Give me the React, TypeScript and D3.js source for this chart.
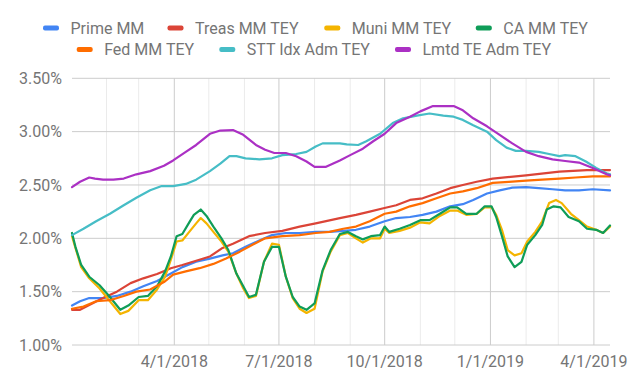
import React from "react";
import * as d3 from "d3";

type Pt = [string, number];

const seriesNames = ["Prime MM", "Treas MM TEY", "Muni MM TEY", "CA MM TEY", "Fed MM TEY", "STT Idx Adm TEY", "Lmtd TE Adm TEY"];
const seriesColors = ["#4285F4", "#DB4437", "#F4B400", "#0F9D58", "#FF6D00", "#46BDC6", "#AB30C4"];

const primeMM: Pt[] = [
  ["2018-01-02", 1.37], ["2018-01-09", 1.41], ["2018-01-17", 1.44], ["2018-01-29", 1.44], ["2018-02-10", 1.46],
  ["2018-02-22", 1.5], ["2018-03-05", 1.55], ["2018-03-17", 1.6], ["2018-03-29", 1.67], ["2018-04-08", 1.73],
  ["2018-04-20", 1.78], ["2018-05-02", 1.81], ["2018-05-13", 1.84], ["2018-05-22", 1.86], ["2018-06-02", 1.92],
  ["2018-06-14", 1.98], ["2018-06-25", 2.03], ["2018-07-07", 2.05], ["2018-07-19", 2.05], ["2018-08-02", 2.06],
  ["2018-08-14", 2.06], ["2018-08-26", 2.07], ["2018-09-06", 2.08], ["2018-09-18", 2.11], ["2018-10-01", 2.16],
  ["2018-10-11", 2.19], ["2018-10-23", 2.2], ["2018-11-03", 2.22], ["2018-11-15", 2.25], ["2018-11-27", 2.3],
  ["2018-12-08", 2.32], ["2018-12-17", 2.36], ["2018-12-29", 2.42], ["2019-01-09", 2.45], ["2019-01-20", 2.475],
  ["2019-02-01", 2.48], ["2019-02-12", 2.47], ["2019-02-24", 2.46], ["2019-03-07", 2.45], ["2019-03-19", 2.45],
  ["2019-03-31", 2.46], ["2019-04-15", 2.45],
];

const treasMM: Pt[] = [
  ["2018-01-02", 1.33], ["2018-01-09", 1.33], ["2018-01-17", 1.375], ["2018-01-29", 1.44], ["2018-02-10", 1.5],
  ["2018-02-22", 1.58], ["2018-03-05", 1.625], ["2018-03-17", 1.665], ["2018-03-29", 1.72], ["2018-04-08", 1.75],
  ["2018-04-20", 1.79], ["2018-05-02", 1.83], ["2018-05-13", 1.91], ["2018-05-22", 1.95], ["2018-06-05", 2.02],
  ["2018-06-19", 2.05], ["2018-07-04", 2.07], ["2018-07-19", 2.11], ["2018-08-02", 2.14], ["2018-08-23", 2.19],
  ["2018-09-06", 2.22], ["2018-09-18", 2.25], ["2018-09-29", 2.28], ["2018-10-11", 2.31], ["2018-10-23", 2.36],
  ["2018-11-03", 2.375], ["2018-11-15", 2.42], ["2018-11-27", 2.47], ["2018-12-08", 2.5], ["2018-12-20", 2.53],
  ["2019-01-03", 2.56], ["2019-02-01", 2.59], ["2019-03-02", 2.625], ["2019-03-26", 2.64], ["2019-04-15", 2.64],
];

const muniMM: Pt[] = [
  ["2018-01-02", 2.02], ["2018-01-05", 1.91], ["2018-01-10", 1.73], ["2018-01-17", 1.625], ["2018-01-26", 1.53],
  ["2018-02-04", 1.41], ["2018-02-13", 1.29], ["2018-02-20", 1.32], ["2018-03-01", 1.42], ["2018-03-09", 1.42],
  ["2018-03-17", 1.52], ["2018-03-24", 1.64], ["2018-03-29", 1.8], ["2018-04-03", 1.97], ["2018-04-08", 1.98],
  ["2018-04-14", 2.06], ["2018-04-20", 2.14], ["2018-04-24", 2.19], ["2018-04-29", 2.14], ["2018-05-05", 2.06],
  ["2018-05-12", 1.97], ["2018-05-18", 1.875], ["2018-05-25", 1.67], ["2018-05-31", 1.53], ["2018-06-05", 1.44],
  ["2018-06-11", 1.46], ["2018-06-18", 1.78], ["2018-06-25", 1.95], ["2018-07-01", 1.94], ["2018-07-07", 1.64],
  ["2018-07-13", 1.44], ["2018-07-19", 1.34], ["2018-07-25", 1.3], ["2018-08-01", 1.34], ["2018-08-08", 1.69],
  ["2018-08-15", 1.875], ["2018-08-23", 2.03], ["2018-08-30", 2.05], ["2018-09-06", 2.0], ["2018-09-12", 1.96],
  ["2018-09-19", 2.0], ["2018-09-27", 2.0], ["2018-10-01", 2.09], ["2018-10-05", 2.05], ["2018-10-14", 2.07],
  ["2018-10-23", 2.1], ["2018-11-01", 2.15], ["2018-11-09", 2.14], ["2018-11-18", 2.21], ["2018-11-27", 2.26],
  ["2018-12-03", 2.26], ["2018-12-11", 2.22], ["2018-12-20", 2.23], ["2018-12-27", 2.29], ["2019-01-02", 2.29],
  ["2019-01-06", 2.22], ["2019-01-11", 2.08], ["2019-01-16", 1.89], ["2019-01-22", 1.84], ["2019-01-28", 1.86],
  ["2019-02-02", 1.97], ["2019-02-09", 2.06], ["2019-02-15", 2.16], ["2019-02-21", 2.33], ["2019-02-27", 2.36],
  ["2019-03-04", 2.33], ["2019-03-12", 2.23], ["2019-03-19", 2.17], ["2019-03-26", 2.11], ["2019-04-03", 2.08],
  ["2019-04-09", 2.05], ["2019-04-15", 2.11],
];

const caMM: Pt[] = [
  ["2018-01-02", 2.05], ["2018-01-05", 1.92], ["2018-01-10", 1.75], ["2018-01-17", 1.64], ["2018-01-26", 1.56],
  ["2018-02-04", 1.45], ["2018-02-13", 1.33], ["2018-02-20", 1.37], ["2018-03-01", 1.45], ["2018-03-09", 1.46],
  ["2018-03-17", 1.55], ["2018-03-24", 1.69], ["2018-03-29", 1.83], ["2018-04-03", 2.02], ["2018-04-08", 2.04],
  ["2018-04-14", 2.15], ["2018-04-18", 2.22], ["2018-04-24", 2.27], ["2018-04-29", 2.21], ["2018-05-05", 2.11],
  ["2018-05-12", 2.0], ["2018-05-18", 1.89], ["2018-05-25", 1.67], ["2018-05-31", 1.55], ["2018-06-05", 1.45],
  ["2018-06-11", 1.47], ["2018-06-18", 1.78], ["2018-06-25", 1.92], ["2018-07-01", 1.92], ["2018-07-07", 1.64],
  ["2018-07-13", 1.45], ["2018-07-19", 1.36], ["2018-07-25", 1.33], ["2018-08-01", 1.39], ["2018-08-08", 1.7],
  ["2018-08-15", 1.89], ["2018-08-23", 2.04], ["2018-08-30", 2.06], ["2018-09-06", 2.02], ["2018-09-12", 1.99],
  ["2018-09-19", 2.02], ["2018-09-27", 2.03], ["2018-10-01", 2.11], ["2018-10-05", 2.06], ["2018-10-14", 2.09],
  ["2018-10-23", 2.125], ["2018-11-01", 2.17], ["2018-11-09", 2.17], ["2018-11-18", 2.23], ["2018-11-27", 2.29],
  ["2018-12-03", 2.29], ["2018-12-11", 2.23], ["2018-12-20", 2.23], ["2018-12-27", 2.3], ["2019-01-02", 2.3],
  ["2019-01-06", 2.2], ["2019-01-11", 2.02], ["2019-01-16", 1.83], ["2019-01-22", 1.73], ["2019-01-28", 1.78],
  ["2019-02-02", 1.94], ["2019-02-09", 2.03], ["2019-02-15", 2.125], ["2019-02-19", 2.27], ["2019-02-25", 2.3],
  ["2019-03-03", 2.29], ["2019-03-10", 2.2], ["2019-03-19", 2.16], ["2019-03-26", 2.09], ["2019-04-03", 2.08],
  ["2019-04-09", 2.05], ["2019-04-15", 2.12],
];

const fedMM: Pt[] = [
  ["2018-01-02", 1.34], ["2018-01-12", 1.36], ["2018-01-23", 1.41], ["2018-02-04", 1.42], ["2018-02-16", 1.46],
  ["2018-02-27", 1.5], ["2018-03-11", 1.52], ["2018-03-23", 1.59], ["2018-03-31", 1.66], ["2018-04-11", 1.69],
  ["2018-04-23", 1.72], ["2018-05-05", 1.76], ["2018-05-16", 1.81], ["2018-05-28", 1.875], ["2018-06-08", 1.94],
  ["2018-06-19", 2.0], ["2018-07-04", 2.02], ["2018-07-19", 2.03], ["2018-08-02", 2.05], ["2018-08-14", 2.06],
  ["2018-08-26", 2.09], ["2018-09-06", 2.11], ["2018-09-18", 2.16], ["2018-10-01", 2.23], ["2018-10-11", 2.25],
  ["2018-10-23", 2.3], ["2018-11-03", 2.33], ["2018-11-15", 2.375], ["2018-11-27", 2.42], ["2018-12-08", 2.44],
  ["2018-12-20", 2.47], ["2019-01-03", 2.52], ["2019-01-17", 2.53], ["2019-02-01", 2.54], ["2019-02-15", 2.55],
  ["2019-03-02", 2.56], ["2019-03-16", 2.57], ["2019-03-31", 2.58], ["2019-04-15", 2.58],
];

const sttIdxAdm: Pt[] = [
  ["2018-01-02", 2.03], ["2018-01-12", 2.09], ["2018-01-23", 2.16], ["2018-02-04", 2.23], ["2018-02-16", 2.31],
  ["2018-02-27", 2.38], ["2018-03-11", 2.45], ["2018-03-21", 2.49], ["2018-03-31", 2.49], ["2018-04-11", 2.51],
  ["2018-04-20", 2.55], ["2018-05-02", 2.63], ["2018-05-11", 2.7], ["2018-05-19", 2.77], ["2018-05-25", 2.77],
  ["2018-06-02", 2.75], ["2018-06-14", 2.74], ["2018-06-25", 2.75], ["2018-07-04", 2.78], ["2018-07-16", 2.79],
  ["2018-07-25", 2.81], ["2018-08-02", 2.86], ["2018-08-08", 2.89], ["2018-08-23", 2.89], ["2018-08-29", 2.88],
  ["2018-09-08", 2.875], ["2018-09-15", 2.91], ["2018-09-27", 2.98], ["2018-10-08", 3.08], ["2018-10-17", 3.125],
  ["2018-10-29", 3.15], ["2018-11-09", 3.17], ["2018-11-21", 3.15], ["2018-11-30", 3.14], ["2018-12-08", 3.11],
  ["2018-12-17", 3.06], ["2018-12-29", 3.0], ["2019-01-06", 2.92], ["2019-01-15", 2.85], ["2019-01-23", 2.82],
  ["2019-02-01", 2.82], ["2019-02-12", 2.81], ["2019-02-21", 2.79], ["2019-03-02", 2.77], ["2019-03-07", 2.78],
  ["2019-03-16", 2.77], ["2019-03-25", 2.72], ["2019-04-03", 2.66], ["2019-04-12", 2.61], ["2019-04-15", 2.6],
];

const lmtdTEAdm: Pt[] = [
  ["2018-01-02", 2.48], ["2018-01-09", 2.53], ["2018-01-17", 2.57], ["2018-01-22", 2.56], ["2018-01-29", 2.55],
  ["2018-02-07", 2.55], ["2018-02-16", 2.56], ["2018-02-27", 2.6], ["2018-03-11", 2.63], ["2018-03-23", 2.68],
  ["2018-03-31", 2.73], ["2018-04-11", 2.81], ["2018-04-20", 2.875], ["2018-05-02", 2.98], ["2018-05-11", 3.01],
  ["2018-05-22", 3.015], ["2018-05-31", 2.97], ["2018-06-11", 2.875], ["2018-06-19", 2.83], ["2018-06-27", 2.8],
  ["2018-07-07", 2.8], ["2018-07-16", 2.77], ["2018-07-25", 2.72], ["2018-08-01", 2.67], ["2018-08-11", 2.67],
  ["2018-08-23", 2.73], ["2018-09-01", 2.78], ["2018-09-12", 2.84], ["2018-09-21", 2.91], ["2018-10-01", 2.98],
  ["2018-10-11", 3.08], ["2018-10-23", 3.14], ["2018-11-01", 3.19], ["2018-11-12", 3.24], ["2018-11-30", 3.24],
  ["2018-12-08", 3.2], ["2018-12-17", 3.125], ["2018-12-29", 3.05], ["2019-01-09", 2.97], ["2019-01-20", 2.89],
  ["2019-02-01", 2.81], ["2019-02-12", 2.77], ["2019-02-24", 2.74], ["2019-03-07", 2.725], ["2019-03-19", 2.71],
  ["2019-03-31", 2.66], ["2019-04-12", 2.6], ["2019-04-15", 2.59],
];

const allSeries: Pt[][] = [primeMM, treasMM, muniMM, caMM, fedMM, sttIdxAdm, lmtdTEAdm];

const yTicks = [1.0, 1.5, 2.0, 2.5, 3.0, 3.5];
const xTickLabels = ["4/1/2018", "7/1/2018", "10/1/2018", "1/1/2019", "4/1/2019"];
const xDomain = ["2018-01-02", "2019-04-15"];

const W = 630;
const H = 388;
const FONT = "Roboto, 'Noto Sans', Arial, sans-serif";
const TEXT = "#757575";

const legendRows = [
  { y: 28, items: [0, 1, 2, 3], x: [43, 167.5, 324.3, 475.8] },
  { y: 49.5, items: [4, 5, 6], x: [76.7, 219.3, 395] },
];

export default function App() {
  const parse = d3.utcParse("%Y-%m-%d");
  const x = d3
    .scaleUtc()
    .domain(xDomain.map((d) => parse(d) as Date))
    .range([72, 610]);
  const y = d3.scaleLinear().domain([1, 3.5]).range([345, 78.3]);

  const monthTicks = d3.utcMonth.range(parse("2018-02-01") as Date, parse("2019-04-16") as Date);
  const tickParse = d3.utcParse("%m/%d/%Y");
  const majorDates = xTickLabels.map((s) => tickParse(s) as Date);
  const isMajor = (d: Date) => majorDates.some((m) => +m === +d);

  const line = d3
    .line<Pt>()
    .x((d) => x(parse(d[0]) as Date))
    .y((d) => y(d[1]));

  const fmt = d3.format(".2f");

  return (
    <svg
      width={W}
      height={H}
      style={{ position: "absolute", left: 0, top: 0, background: "#fff" }}
      fontFamily={FONT}
    >
      <rect width={W} height={H} fill="#fff" />
      {/* minor vertical gridlines */}
      {monthTicks
        .filter((d) => !isMajor(d))
        .map((d, i) => (
          <line key={"mv" + i} x1={x(d)} x2={x(d)} y1={y(3.5)} y2={y(1)} stroke="#ebebeb" strokeWidth={1} />
        ))}
      {/* major vertical gridlines */}
      {majorDates.map((d, i) => (
        <line key={"Mv" + i} x1={x(d)} x2={x(d)} y1={y(3.5)} y2={y(1)} stroke="#cccccc" strokeWidth={1} />
      ))}
      {/* horizontal gridlines */}
      {yTicks.map((t, i) => (
        <line key={"h" + i} x1={72} x2={610} y1={y(t)} y2={y(t)} stroke="#cccccc" strokeWidth={1} />
      ))}
      {/* y labels */}
      {yTicks.map((t, i) => (
        <text key={"yl" + i} x={62} y={y(t)} dy="0.36em" textAnchor="end" fontSize={16} fill={TEXT}>
          {fmt(t) + "%"}
        </text>
      ))}
      {/* x labels */}
      {majorDates.map((d, i) => (
        <text key={"xl" + i} x={x(d)} y={367} textAnchor="middle" fontSize={16} fill={TEXT}>
          {xTickLabels[i]}
        </text>
      ))}
      {/* series */}
      {allSeries.map((s, i) => (
        <path
          key={"s" + i}
          d={line(s) || ""}
          fill="none"
          stroke={seriesColors[i]}
          strokeWidth={2.2}
          strokeLinejoin="round"
          strokeLinecap="round"
        />
      ))}
      {/* legend */}
      {legendRows.map((row, r) =>
        row.items.map((si, j) => (
          <g key={"lg" + r + "_" + j}>
            <rect x={row.x[j]} y={row.y - 2.5} width={16} height={5} rx={2} fill={seriesColors[si]} />
            <text x={row.x[j] + 27.5} y={row.y} dy="0.36em" fontSize={16} fill={TEXT}>
              {seriesNames[si]}
            </text>
          </g>
        ))
      )}
    </svg>
  );
}
